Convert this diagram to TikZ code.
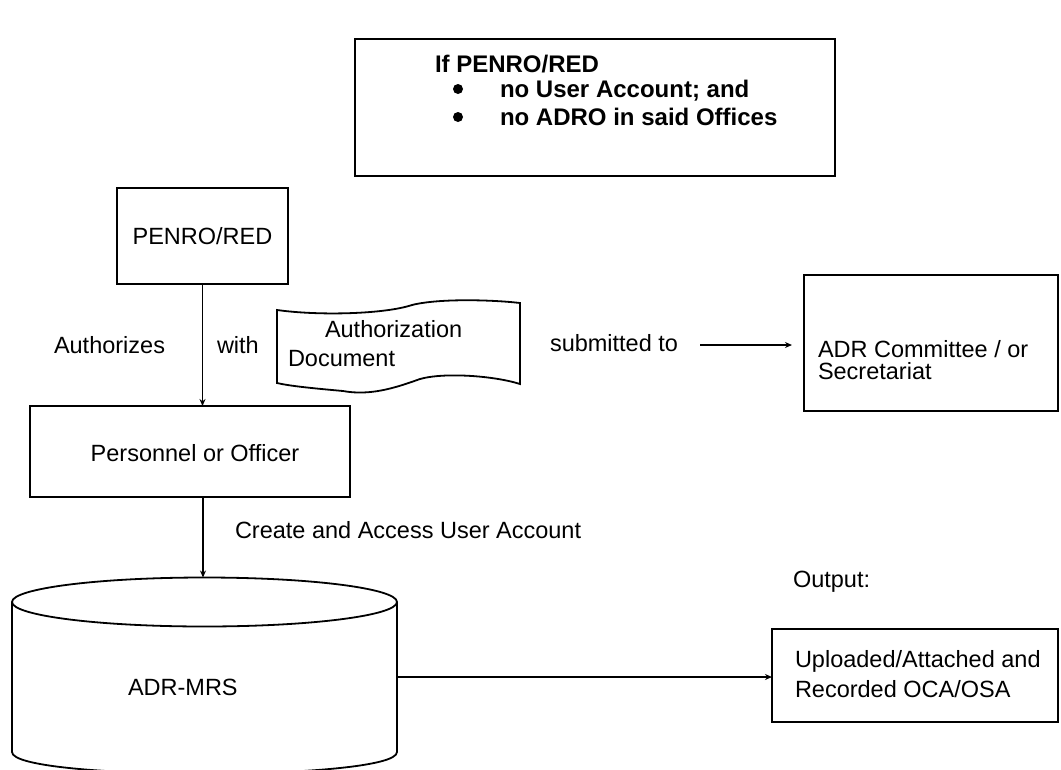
\documentclass[tikz,border=0pt]{standalone}
\usepackage{fontspec}
\setmainfont{Liberation Sans}
\usetikzlibrary{arrows.meta}
\begin{document}
\begin{tikzpicture}[x=1pt,y=-1pt,
  line width=1.8pt,
  every node/.style={font=\fontsize{23.5}{28}\selectfont, inner sep=0pt, outer sep=0pt},
  lbl/.style={anchor=base west},
  boldlbl/.style={anchor=base west, font=\fontsize{24}{28}\selectfont\bfseries},
  arr/.style={-{Stealth[length=7pt,width=6pt]}, line width=1.7pt}]
\useasboundingbox (0,0) rectangle (1061,769);

% top condition box
\draw (355,39) rectangle (835,176);
\node[boldlbl] (cond) at (435,72) {If PENRO/RED};
\fill (458,89) circle (5pt);
\fill (458,117) circle (5pt);
\node[boldlbl] (c1) at (500,97) {no User Account; and};
\node[boldlbl] (c2) at (500,125) {no ADRO in said Offices};

% PENRO/RED box
\node[draw, minimum width=171pt, minimum height=96pt] (penro) at (202.5,236) {PENRO/RED};

% Personnel box
\node[draw, minimum width=320pt, minimum height=91pt] (pers) at (190,451.5) {};
\node (perstext) at (195,453) {Personnel or Officer};

% labels on the authorization step
\node[lbl] (auth) at (54,353) {Authorizes};
\node[lbl] (with) at (217,353) {with};

% authorization document shape
\draw (277,310) .. controls (320,316) and (385,314) .. (412,305)
      .. controls (440,298) and (495,300) .. (520,303)
      -- (520,384)
      .. controls (495,376) and (445,372) .. (420,379)
      .. controls (395,388) and (370,396) .. (343,391)
      .. controls (310,388) and (290,386) .. (277,383) -- cycle;
\node[lbl] (doc1) at (325,337) {Authorization};
\node[lbl] (doc2) at (288,366) {Document};

\node[lbl] (subm) at (550,351) {submitted to};

% ADR committee box
\node[draw, minimum width=254pt, minimum height=136pt] (adr) at (931,343) {};
\node[lbl] (adr1) at (818,357) {ADR Committee / or};
\node[lbl] (adr2) at (818,379) {Secretariat};

\node[lbl] (create) at (235,538) {Create and Access User Account};
\node[lbl] (outlbl) at (793,587) {Output:};

% output box
\node[draw, minimum width=286pt, minimum height=93pt] (outbox) at (915,675.5) {};
\node[lbl] (out1) at (795,667) {Uploaded/Attached and};
\node[lbl] (out2) at (795,697) {Recorded OCA/OSA};

% database cylinder
\draw (204.5,602) ellipse [x radius=192.5pt, y radius=24.5pt];
\draw (12,602) -- (12,752)
      .. controls (12,781) and (397,781) .. (397,752) -- (397,602);
\coordinate (dbtop) at (203,577.5);
\coordinate (dbright) at (397,677);
\node[lbl] (dbtext) at (128,695) {ADR-MRS};

% connectors
\draw[arr] (penro.south) -- (penro.south |- pers.north);
\draw[arr] (pers.south -| dbtop) -- (dbtop);
\coordinate (s1) at (700,345);
\coordinate (s2) at (792,345);
\draw[arr] (s1) -- (s2);
\draw[arr] (dbright) -- (dbright -| outbox.west);
\end{tikzpicture}
\end{document}
